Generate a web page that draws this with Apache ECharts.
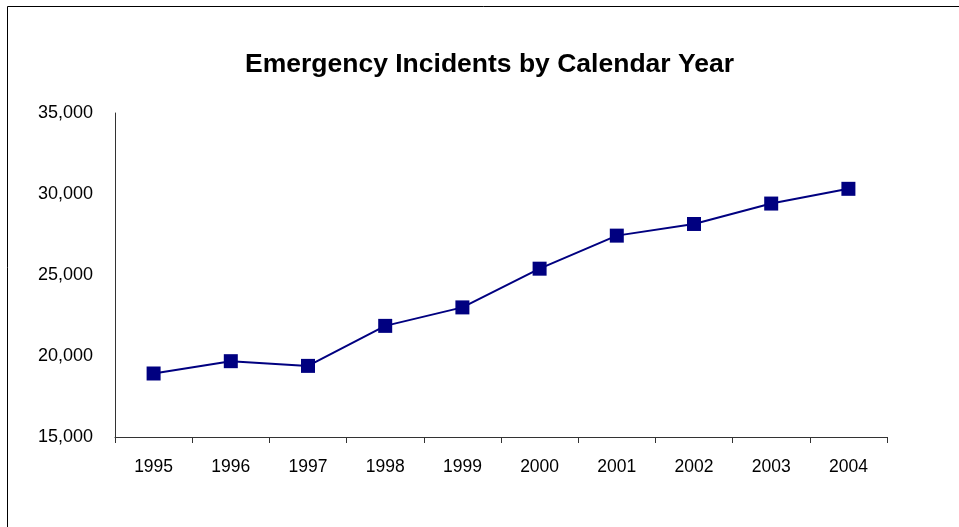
<!DOCTYPE html>
<html>
<head>
<meta charset="utf-8">
<script src="https://cdn.jsdelivr.net/npm/echarts@6/dist/echarts.min.js"></script>
<style>html,body{margin:0;padding:0;background:#fff;}#c{width:959px;height:527px;}</style>
</head>
<body>
<div id="c"></div>
<script>
const years = ['1995','1996','1997','1998','1999','2000','2001','2002','2003','2004'];
const incidents = [18920, 19680, 19390, 21860, 23000, 25390, 27430, 28150, 29410, 30320];
const yTicks = {min: 15000, max: 35000, interval: 5000};

const chart = echarts.init(document.getElementById('c'));
chart.setOption({
  animation: false,
  backgroundColor: '#fff',
  graphic: [{
    type: 'rect', left: 5, top: 4,
    shape: {width: 1000, height: 600},
    style: {fill: 'none', stroke: '#000', lineWidth: 1}
  }],
  title: {
    text: 'Emergency Incidents by Calendar Year',
    left: 240, top: 46,
    textStyle: {fontFamily: 'Liberation Sans, Arial', fontSize: 26.5, fontWeight: 'bold', color: '#000'}
  },
  grid: {left: 115, right: 72, top: 113, bottom: 90},
  xAxis: {
    type: 'category', data: years, boundaryGap: true,
    axisLine: {lineStyle: {color: '#333', width: 1}},
    axisTick: {show: true, length: 6, alignWithLabel: false, lineStyle: {color: '#333'}},
    axisLabel: {fontFamily: 'Liberation Sans, Arial', fontSize: 17.5, color: '#000', margin: 21}
  },
  yAxis: {
    type: 'value', min: yTicks.min, max: yTicks.max, interval: yTicks.interval,
    axisLine: {show: true, lineStyle: {color: '#333', width: 1}},
    axisTick: {show: false},
    splitLine: {show: false},
    axisLabel: {
      fontFamily: 'Liberation Sans, Arial', fontSize: 18, color: '#000', margin: 22,
      formatter: v => v.toLocaleString('en-US')
    }
  },
  series: [{
    type: 'line', data: incidents,
    symbol: 'rect', symbolSize: 14,
    lineStyle: {color: '#000080', width: 2},
    itemStyle: {color: '#000080'}
  }]
});
</script>
</body>
</html>
